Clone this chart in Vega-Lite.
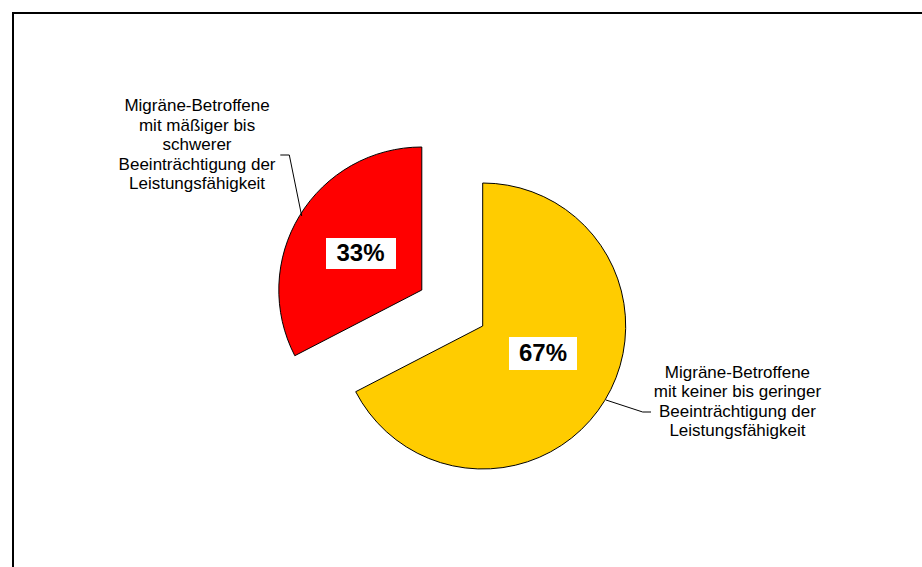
{
  "$schema": "https://vega.github.io/schema/vega-lite/v6.json",
  "width": 922,
  "height": 567,
  "autosize": {"type": "fit", "contains": "padding"},
  "padding": {"left": 12, "top": 12, "right": -2, "bottom": -2},
  "background": "white",
  "config": {"view": {"stroke": null}, "font": "Liberation Sans"},
  "data": {
    "values": [
      {"gruppe": "gering", "anteil": 0.674, "label": "Migräne-Betroffene\nmit keiner bis geringer\nBeeinträchtigung der\nLeistungsfähigkeit"},
      {"gruppe": "schwer", "anteil": 0.326, "label": "Migräne-Betroffene\nmit mäßiger bis\nschwerer\nBeeinträchtigung der\nLeistungsfähigkeit"}
    ]
  },
  "layer": [
    {
      "transform": [{"filter": "datum.gruppe === 'gering'"}],
      "mark": {"type": "rect", "fill": null, "stroke": "black", "strokeWidth": 2},
      "encoding": {
        "x": {"value": 0},
        "y": {"value": 0},
        "x2": {"value": "width"},
        "y2": {"value": "height"}
      }
    },
    {
      "mark": {"type": "arc", "radius": 143, "xOffset": 14.7, "yOffset": 35.5, "stroke": "black", "strokeWidth": 1},
      "encoding": {
        "theta": {"field": "anteil", "type": "quantitative", "stack": true},
        "order": {"field": "anteil", "sort": "descending"},
        "color": {"field": "gruppe", "type": "nominal", "scale": {"domain": ["gering", "schwer"], "range": ["#FFCC00", "#FF0000"]}, "legend": null},
        "opacity": {"condition": {"test": "datum.gruppe === 'gering'", "value": 1}, "value": 0}
      }
    },
    {
      "mark": {"type": "arc", "radius": 143, "xOffset": -46.2, "yOffset": -0.5, "stroke": "black", "strokeWidth": 1},
      "encoding": {
        "theta": {"field": "anteil", "type": "quantitative", "stack": true},
        "order": {"field": "anteil", "sort": "descending"},
        "color": {"field": "gruppe", "type": "nominal", "scale": {"domain": ["gering", "schwer"], "range": ["#FFCC00", "#FF0000"]}, "legend": null},
        "opacity": {"condition": {"test": "datum.gruppe === 'schwer'", "value": 1}, "value": 0}
      }
    },
    {
      "transform": [{"filter": "datum.gruppe === 'schwer'"}],
      "mark": {"type": "point", "shape": "M-1,-0.443H1V0.443H-1Z", "size": 4900, "filled": true, "color": "white", "opacity": 1, "xOffset": -107, "yOffset": -37},
      "encoding": {}
    },
    {
      "transform": [{"filter": "datum.gruppe === 'gering'"}],
      "mark": {"type": "point", "shape": "M-1,-0.485H1V0.485H-1Z", "size": 4624, "filled": true, "color": "white", "opacity": 1, "xOffset": 75, "yOffset": 63},
      "encoding": {}
    },
    {
      "mark": {"type": "text", "radius": 62, "xOffset": 14.7, "yOffset": 35.5, "dx": 7.3, "dy": -4.7, "fontSize": 24, "fontWeight": "bold", "align": "center", "baseline": "middle", "color": "black"},
      "encoding": {
        "theta": {"field": "anteil", "type": "quantitative", "stack": true},
        "order": {"field": "anteil", "sort": "descending"},
        "detail": {"field": "gruppe"},
        "text": {"field": "anteil", "type": "quantitative", "format": ".0%"},
        "opacity": {"condition": {"test": "datum.gruppe === 'gering'", "value": 1}, "value": 0}
      }
    },
    {
      "mark": {"type": "text", "radius": 71.5, "xOffset": -46.2, "yOffset": -0.5, "dx": -0.2, "dy": 1.2, "fontSize": 24, "fontWeight": "bold", "align": "center", "baseline": "middle", "color": "black"},
      "encoding": {
        "theta": {"field": "anteil", "type": "quantitative", "stack": true},
        "order": {"field": "anteil", "sort": "descending"},
        "detail": {"field": "gruppe"},
        "text": {"field": "anteil", "type": "quantitative", "format": ".0%"},
        "opacity": {"condition": {"test": "datum.gruppe === 'schwer'", "value": 1}, "value": 0}
      }
    },
    {
      "mark": {"type": "text", "radius": 200, "xOffset": 14.7, "yOffset": 35.5, "dx": 83.9, "dy": -57.2, "fontSize": 17, "lineHeight": 19.5, "lineBreak": "\n", "align": "center", "baseline": "middle", "color": "black"},
      "encoding": {
        "theta": {"field": "anteil", "type": "quantitative", "stack": true},
        "order": {"field": "anteil", "sort": "descending"},
        "detail": {"field": "gruppe"},
        "text": {"field": "label"},
        "opacity": {"condition": {"test": "datum.gruppe === 'gering'", "value": 1}, "value": 0}
      }
    },
    {
      "mark": {"type": "text", "radius": 200, "xOffset": -46.2, "yOffset": -0.5, "dx": -53.9, "dy": -79.6, "fontSize": 17, "lineHeight": 19.5, "lineBreak": "\n", "align": "center", "baseline": "middle", "color": "black"},
      "encoding": {
        "theta": {"field": "anteil", "type": "quantitative", "stack": true},
        "order": {"field": "anteil", "sort": "descending"},
        "detail": {"field": "gruppe"},
        "text": {"field": "label"},
        "opacity": {"condition": {"test": "datum.gruppe === 'schwer'", "value": 1}, "value": 0}
      }
    },
    {
      "transform": [{"filter": "datum.gruppe === 'schwer'"}],
      "mark": {"type": "rule", "color": "black", "strokeWidth": 1},
      "encoding": {"x": {"value": 267.3}, "y": {"value": 142}, "x2": {"value": 276.3}, "y2": {"value": 142}}
    },
    {
      "transform": [{"filter": "datum.gruppe === 'schwer'"}],
      "mark": {"type": "rule", "color": "black", "strokeWidth": 1},
      "encoding": {"x": {"value": 276.3}, "y": {"value": 142}, "x2": {"value": 288.7}, "y2": {"value": 203}}
    },
    {
      "transform": [{"filter": "datum.gruppe === 'gering'"}],
      "mark": {"type": "rule", "color": "black", "strokeWidth": 1},
      "encoding": {"x": {"value": 593}, "y": {"value": 387}, "x2": {"value": 629.7}, "y2": {"value": 399}}
    },
    {
      "transform": [{"filter": "datum.gruppe === 'gering'"}],
      "mark": {"type": "rule", "color": "black", "strokeWidth": 1},
      "encoding": {"x": {"value": 629.7}, "y": {"value": 399}, "x2": {"value": 638}, "y2": {"value": 399}}
    }
  ]
}
